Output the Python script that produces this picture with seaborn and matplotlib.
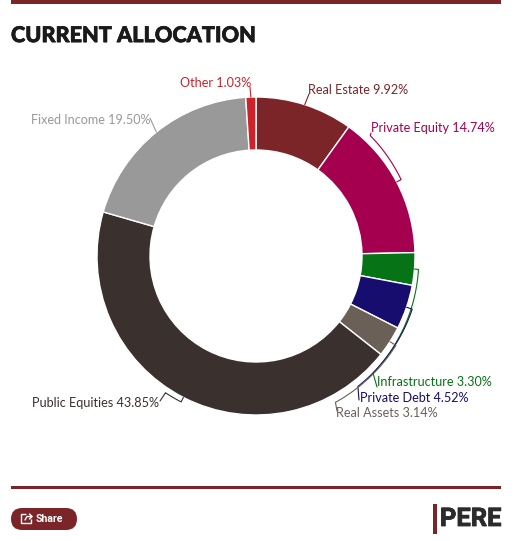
import numpy as np
import matplotlib
matplotlib.use("Agg")
import matplotlib.pyplot as plt
import matplotlib.patheffects as pe
from matplotlib.patches import FancyBboxPatch, Rectangle
import seaborn as sns

# Portfolio allocation, clockwise from twelve o'clock
categories = ["Real Estate", "Private Equity", "Infrastructure", "Private Debt",
              "Real Assets", "Public Equities", "Fixed Income", "Other"]
shares = [9.92, 14.74, 3.30, 4.52, 3.14, 43.85, 19.50, 1.03]
hex_colors = ["#7b2528", "#a50050", "#067316", "#160d6e",
              "#6b6058", "#3a302d", "#999999", "#cc2229"]

W, H = 516, 541
CX, CY, R_OUT, R_IN = 256, 256, 159, 106
MAROON = "#7b2528"

# Label layout in pixels: text anchor x, vertical centre y, horizontal alignment
label_xy = {
    "Real Estate": (308.5, 90.5, "left"),
    "Private Equity": (371, 128.5, "left"),
    "Infrastructure": (377, 382.5, "left"),
    "Private Debt": (359.5, 397.5, "left"),
    "Real Assets": (336.5, 412.8, "left"),
    "Public Equities": (159, 403, "right"),
    "Fixed Income": (150.5, 119.8, "right"),
    "Other": (251, 83, "right"),
}
# Leader routing: arc start radius, arc end radius, clockwise end angle, final point
leader_route = {
    "Real Estate": (None, None, None, (309, 94)),
    "Private Equity": (164, 166, 43.5, (371, 133)),
    "Infrastructure": (163, 165.5, 135, (377, 387)),
    "Private Debt": (165, 165.5, 142, (359, 400)),
    "Real Assets": (166, 166.5, 151.5, (337, 411)),
    "Public Equities": (164, 164, 213.5, (160, 401)),
    "Fixed Income": (None, None, None, (150, 118)),
    "Other": (None, None, None, (250, 87)),
}

sns.set_theme(style="white")
plt.rcParams["font.family"] = ["Lato", "DejaVu Sans"]
palette = sns.color_palette(hex_colors)

fig = plt.figure(figsize=(W / 100, H / 100), dpi=100, facecolor="white")
ax = fig.add_axes([0, 0, 1, 1])


def flip(py):
    return H - py


def polar(radius, angle):
    a = np.radians(angle)
    return CX + radius * np.sin(a), flip(CY - radius * np.cos(a))


ax.pie(shares, colors=palette, startangle=90, counterclock=False,
       radius=R_OUT, center=(CX, flip(CY)),
       wedgeprops=dict(width=R_OUT - R_IN, edgecolor="white", linewidth=1.0))
ax.set_xlim(0, W)
ax.set_ylim(0, H)
ax.set_aspect("equal")
ax.set_axis_off()

# Leaders and labels are derived from each wedge's mid angle
cumulative = np.cumsum([0] + shares)
for i, name in enumerate(categories):
    mid = (cumulative[i] + shares[i] / 2) * 3.6
    r_start, r_end, end_angle, last = leader_route[name]
    x0, y0 = polar(R_OUT, mid)
    xs, ys = [x0], [y0]
    if r_start is not None:
        for a, r in zip(np.linspace(mid, end_angle, 60), np.linspace(r_start, r_end, 60)):
            px, py = polar(r, a)
            xs.append(px)
            ys.append(py)
    xs.append(last[0])
    ys.append(flip(last[1]))
    ax.plot(xs, ys, color=hex_colors[i], lw=0.8, solid_joinstyle="round", zorder=3)

    lx, ly, ha = label_xy[name]
    ax.text(lx, flip(ly), f"{name} {shares[i]:.2f}%", color=hex_colors[i],
            fontsize=9.05, ha=ha, va="center", zorder=4)

# Title and rules
ax.add_patch(Rectangle((11, flip(3.5)), 490, 3.5, color=MAROON, lw=0))
ax.add_patch(Rectangle((11, flip(489)), 490, 3, color=MAROON, lw=0))
ax.text(11, flip(35.6), "CURRENT ALLOCATION", color="#1a1a1a", fontsize=15.6,
        fontweight="black", ha="left", va="center",
        path_effects=[pe.withStroke(linewidth=0.5, foreground="#1a1a1a")])

# Share button with its icon
ax.add_patch(FancyBboxPatch((11, flip(530)), 66, 22,
                            boxstyle="round,pad=0,rounding_size=11", color=MAROON, lw=0))
ax.plot([26, 21, 21, 31, 31], [flip(514), flip(514), flip(523), flip(523), flip(519)],
        color="white", lw=1.0, solid_capstyle="butt")
ax.plot([25, 27, 32], [flip(520), flip(516.5), flip(516.5)], color="white", lw=1.0)
ax.plot([29.5, 32, 29.5], [flip(514), flip(516.5), flip(519)], color="white", lw=1.0)
ax.text(36, flip(518.5), "Share", color="white", fontsize=7.6, fontweight="bold",
        family="Roboto", ha="left", va="center")

# Publication mark
ax.add_patch(Rectangle((433, flip(533.5)), 3.5, 30, color=MAROON, lw=0))
ax.text(501.5, flip(519), "PERE", color="#2b2b2b", fontsize=18.4, fontweight="bold",
        family=["Liberation Sans Narrow", "Roboto"], ha="right", va="center",
        path_effects=[pe.withStroke(linewidth=0.6, foreground="#2b2b2b")])

fig.savefig("out.png", dpi=100, facecolor="white")
